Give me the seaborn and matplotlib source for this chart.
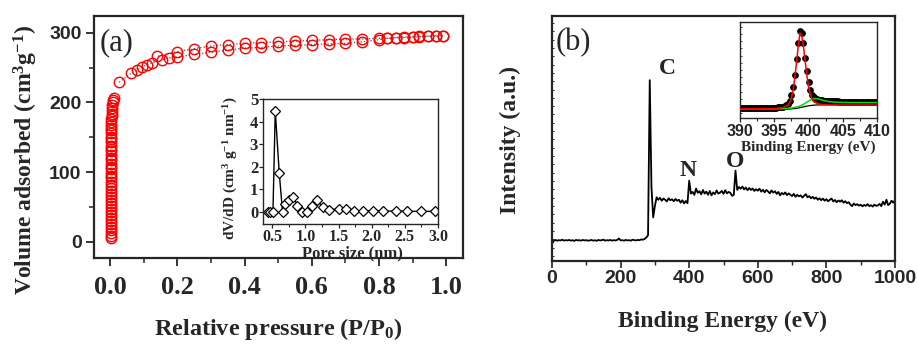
import numpy as np
import matplotlib
matplotlib.use("Agg")
import matplotlib.pyplot as plt
import seaborn as sns
from matplotlib.ticker import MultipleLocator

# ---- (a) N2 isotherm ----
low_p = [0.002, 0.002, 0.002, 0.002, 0.002, 0.002, 0.002, 0.002, 0.002, 0.002,
         0.002, 0.002, 0.002, 0.002, 0.002, 0.002, 0.002, 0.002, 0.002, 0.002,
         0.002, 0.002, 0.002, 0.002, 0.003, 0.003, 0.003, 0.003, 0.003, 0.003,
         0.003, 0.003, 0.003, 0.003, 0.003, 0.003, 0.004, 0.004, 0.004, 0.004,
         0.004, 0.005, 0.005, 0.006, 0.006, 0.007, 0.008, 0.010, 0.012]
low_v = [5, 9, 13, 17, 21, 26, 30, 34, 39, 43, 47, 52, 56, 60, 65, 69, 73, 78, 82, 86,
         91, 95, 99, 104, 108, 112, 117, 121, 125, 130, 134, 138, 143, 147, 151, 156,
         160, 164, 168, 172, 176, 180, 184, 188, 192, 196, 200, 204, 207]
ads_p = [0.027, 0.063, 0.08, 0.095, 0.11, 0.125, 0.155, 0.175, 0.2, 0.25, 0.3, 0.35,
         0.4, 0.45, 0.5, 0.55, 0.6, 0.65, 0.7, 0.75, 0.8, 0.825, 0.85, 0.875, 0.9,
         0.92, 0.945, 0.97, 0.99]
ads_v = [229, 242, 247, 251, 254, 257, 261, 264, 265, 269, 272, 275, 278, 279, 281,
         282, 283, 284, 285, 287, 290, 292, 293, 293, 294, 294, 295, 295, 296]
des_p = [0.99, 0.97, 0.945, 0.92, 0.9, 0.875, 0.85, 0.825, 0.8, 0.75, 0.7, 0.65, 0.6,
         0.55, 0.5, 0.45, 0.4, 0.35, 0.3, 0.25, 0.2, 0.14]
des_v = [296, 296, 295, 295, 294, 294, 293, 292, 292, 291, 291, 290, 289, 288, 287,
         286, 285, 283, 281, 277, 273, 266]
p_ticks = [0.0, 0.2, 0.4, 0.6, 0.8, 1.0]
p_labels = ["0.0", "0.2", "0.4", "0.6", "0.8", "1.0"]
v_ticks = [0, 100, 200, 300]

# pore size distribution (inset a)
pore_d = [0.43, 0.47, 0.51, 0.545, 0.605, 0.655, 0.685, 0.745, 0.82, 0.88, 0.95, 1.02,
          1.10, 1.18, 1.26, 1.36, 1.50, 1.61, 1.73, 1.87, 2.02, 2.17, 2.37, 2.53, 2.74, 2.96]
pore_dv = [0.0, 0.0, 0.0, 4.48, 1.73, 0.0, 0.35, 0.53, 0.65, 0.27, 0.0, 0.0, 0.27, 0.53,
           0.2, 0.09, 0.15, 0.12, 0.06, 0.06, 0.06, 0.04, 0.04, 0.03, 0.03, 0.03]
d_ticks = [0.5, 1.0, 1.5, 2.0, 2.5, 3.0]
d_labels = ["0.5", "1.0", "1.5", "2.0", "2.5", "3.0"]

# ---- (b) XPS survey, 5 eV steps ----
survey_e = np.arange(0, 1001, 5)
survey_i = [
    7.0, 8.2, 8.6, 8.3, 8.5, 8.4, 8.7, 8.3, 8.5, 8.4,
    8.6, 8.3, 8.5, 8.2, 8.6, 8.4, 8.5, 8.3, 8.6, 8.4,
    8.5, 8.3, 8.4, 8.6, 8.3, 8.5, 8.2, 8.6, 8.4, 8.5,
    8.7, 8.3, 8.5, 8.4, 8.6, 8.3, 8.5, 8.4, 8.6, 9.2,
    8.4, 8.5, 8.3, 8.6, 8.4, 8.5, 8.3, 8.7, 8.5, 8.4,
    8.6, 8.5, 8.8, 8.7, 9.0, 9.6, 10.5, 73.8, 30.0, 17.8,
    22.5, 26.0, 25.0, 25.8, 24.6, 25.5, 25.0, 24.3, 25.6, 24.8,
    25.2, 24.4, 25.3, 24.6, 25.0, 23.8, 24.8, 23.5, 24.5, 23.6,
    32.8, 27.5, 28.2, 27.0, 29.6, 27.8, 28.5, 27.2, 29.0, 27.5,
    28.3, 27.0, 28.6, 26.8, 28.0, 27.3, 28.8, 27.5, 27.9, 28.6,
    27.4, 28.9, 27.6, 28.2, 27.8, 26.6, 27.0, 36.9, 29.0, 30.2,
    29.5, 30.4, 29.2, 30.0, 28.9, 29.8, 29.0, 29.6, 28.6, 29.3,
    28.7, 29.5, 28.3, 29.1, 28.0, 29.0, 28.4, 27.6, 28.8, 27.9,
    28.5, 27.4, 28.2, 26.8, 27.8, 27.2, 28.0, 26.9, 27.6, 27.0,
    26.5, 27.4, 26.2, 27.0, 26.4, 26.8, 25.9, 26.6, 27.3, 26.0,
    26.5, 25.6, 26.2, 25.4, 25.9, 25.0, 25.6, 24.8, 25.5, 24.6,
    25.2, 24.4, 25.0, 25.5, 24.3, 24.9, 24.0, 24.7, 24.2, 24.8,
    23.8, 24.4, 23.6, 24.0, 23.0, 22.4, 23.5, 22.8, 23.2, 22.6,
    23.0, 22.3, 22.9, 22.5, 23.2, 22.4, 22.8, 22.2, 23.0, 22.5,
    22.7, 23.3, 22.4, 24.2, 23.0, 25.0, 22.8, 23.4, 24.6, 23.8,
    24.8]
e_ticks = [0, 200, 400, 600, 800, 1000]

# N 1s high resolution (inset b), 0.25 eV steps
n1s_e = np.arange(390, 410.01, 0.25)
n1s_i = [
    10.5, 10.6, 10.5, 10.4, 10.6, 10.5, 10.5, 10.6,
    10.5, 10.6, 10.5, 10.7, 10.6, 10.6, 10.7, 10.7,
    10.6, 10.6, 10.7, 10.7, 10.8, 10.9, 11.0, 11.2,
    11.5, 11.8, 12.2, 13.2, 15.0, 18.0, 23.5, 32.0,
    45.0, 61.0, 78.0, 91.0, 89.0, 78.0, 63.0, 48.5,
    37.0, 29.0, 24.0, 21.5, 20.2, 19.5, 19.0, 18.7,
    18.4, 18.2, 18.0, 17.8, 17.6, 17.5, 17.4, 17.3,
    17.2, 17.2, 17.1, 17.1, 17.0, 17.0, 17.0, 16.9,
    16.9, 16.9, 16.8, 16.8, 16.8, 16.8, 16.8, 16.7,
    16.7, 16.7, 16.7, 16.7, 16.7, 16.7, 16.7, 16.7,
    16.7]
fit1_e = [390, 394, 395, 396, 396.5, 397, 397.25, 397.5, 397.75, 398, 398.25, 398.5,
          398.75, 399, 399.25, 399.5, 399.75, 400, 400.25, 400.5, 401, 401.5, 402, 403,
          405, 410]
fit1_i = [9.6, 9.7, 9.9, 10.5, 11.4, 13.5, 16.2, 21.0, 29.0, 42.0, 58.0, 75.0, 88.5,
          86.0, 75.0, 60.0, 45.0, 33.0, 25.0, 20.0, 16.0, 14.6, 14.0, 13.6, 13.5, 13.5]
fit2_e = [390, 395, 396.5, 397.5, 398.5, 399.0, 399.5, 400.0, 400.5, 401.0, 401.5,
          402.0, 402.5, 403.0, 404.0, 406.0, 410]
fit2_i = [9.5, 9.5, 9.7, 10.3, 11.8, 13.3, 15.3, 17.6, 19.6, 20.3, 19.8, 18.7, 17.7,
          17.0, 16.4, 16.1, 16.0]
bg_e = [390, 396, 397, 398, 398.5, 399, 399.5, 400, 400.5, 401, 402, 403, 410]
bg_i = [9.0, 9.0, 9.2, 9.8, 10.4, 11.2, 12.0, 12.7, 13.2, 13.5, 13.7, 13.8, 13.8]
n_ticks = [390, 395, 400, 405, 410]

sns.set_style("ticks")
plt.rcParams["font.family"] = ["Liberation Serif", "DejaVu Serif"]
plt.rcParams["mathtext.fontset"] = "custom"
plt.rcParams["mathtext.rm"] = "Liberation Serif:bold"
plt.rcParams["mathtext.bf"] = "Liberation Serif:bold"
plt.rcParams["mathtext.it"] = "Liberation Serif:bold"
plt.rcParams["mathtext.default"] = "bf"

SERIF = "Liberation Serif"
SANS = "Liberation Sans"
W, H = 917, 348


def box(l, t, r, b):
    return [l / W, 1 - b / H, (r - l) / W, (b - t) / H]


fig = plt.figure(figsize=(9.17, 3.48), dpi=100)

# ---------- panel (a) ----------
ax = fig.add_axes(box(94, 16, 463, 258))
sns.lineplot(x=des_p, y=des_v, ax=ax, sort=False, estimator=None, color="#555555",
             linestyle=":", lw=0.9)
sns.lineplot(x=ads_p, y=ads_v, ax=ax, sort=False, estimator=None, color="#555555",
             linestyle=":", lw=0.9)
for px, py in [(low_p, low_v), (ads_p, ads_v), (des_p, des_v)]:
    sns.lineplot(x=px, y=py, ax=ax, sort=False, estimator=None, linestyle="none",
                 marker="o", ms=7.5, mfc="none", mec="red", mew=1)
ax.set_xlim(-0.048, 1.05)
ax.set_ylim(-23, 324)
ax.set_xticks(p_ticks)
ax.set_xticklabels(p_labels, fontfamily=SERIF, fontweight="bold", fontsize=19)
ax.set_yticks(v_ticks)
ax.set_yticklabels([str(v) for v in v_ticks], fontfamily=SANS, fontweight="bold", fontsize=14)
ax.xaxis.set_minor_locator(MultipleLocator(0.1))
ax.yaxis.set_minor_locator(MultipleLocator(50))
ax.tick_params(which="major", direction="out", length=6, width=1.3)
ax.tick_params(which="minor", direction="out", length=3.5, width=1.1)
ax.tick_params(axis="x", pad=7)
ax.tick_params(axis="y", pad=3)
for s in ax.spines.values():
    s.set_linewidth(1.6)
ax.set_xlabel("")
ax.set_ylabel("")
ax.text(0.015, 0.89, "(a)", transform=ax.transAxes, fontsize=22, va="center", ha="left")

# inset (a)
ia = fig.add_axes(box(263, 99, 438, 224))
sns.lineplot(x=pore_d, y=pore_dv, ax=ia, sort=False, estimator=None, color="black", lw=1,
             marker="D", ms=5, mfc="white", mec="black", mew=0.9)
ia.set_xlim(0.36, 3.0)
ia.set_ylim(-0.53, 5.0)
ia.set_xticks(d_ticks)
ia.set_xticklabels(d_labels, fontfamily=SERIF, fontweight="bold", fontsize=11.5)
ia.set_yticks([0, 1, 2, 3, 4, 5])
ia.set_yticklabels(["0", "1", "2", "3", "4", "5"], fontfamily=SERIF, fontweight="bold",
                   fontsize=12)
ia.xaxis.set_minor_locator(MultipleLocator(0.25))
ia.tick_params(which="major", direction="out", length=3, width=0.9, pad=0.5)
ia.tick_params(which="minor", direction="out", length=1.8, width=0.8)
for s in ia.spines.values():
    s.set_linewidth(1.0)
ia.set_xlabel("")
ia.set_ylabel("")
fig.text(352 / W, 1 - 253 / H, "Pore size (nm)", fontsize=12, fontweight="bold",
         ha="center", va="center")
fig.text(231 / W, 1 - 168 / H, "dV/dD (cm$^{3}$ g$^{-1}$ nm$^{-1}$)", fontsize=11,
         fontweight="bold", rotation=90, ha="center", va="center")

fig.text(26 / W, 1 - 160 / H, "Volume adsorbed (cm$^{3}$g$^{-1}$)", fontsize=17,
         fontweight="bold", rotation=90, ha="center", va="center")
fig.text(278 / W, 1 - 329 / H, "Relative pressure (P/P$_{0}$)", fontsize=17.5,
         fontweight="bold", ha="center", va="center")

# ---------- panel (b) ----------
bx = fig.add_axes(box(552, 16, 895, 261))
sns.lineplot(x=survey_e, y=survey_i, ax=bx, sort=False, estimator=None, color="black", lw=1.3)
bx.set_xlim(0, 1000)
bx.set_ylim(0, 100)
bx.set_xticks(e_ticks)
bx.set_xticklabels([str(e) for e in e_ticks], fontfamily=SANS, fontweight="bold", fontsize=14)
bx.xaxis.set_minor_locator(MultipleLocator(100))
bx.set_yticks(np.arange(2, 100, 3.4))
bx.set_yticklabels([])
bx.tick_params(axis="x", which="major", direction="out", length=5, width=1.2, pad=1.5)
bx.tick_params(axis="x", which="minor", direction="out", length=3, width=1.0)
bx.tick_params(axis="y", direction="in", length=1.5, width=0.7)
for s in bx.spines.values():
    s.set_linewidth(1.6)
bx.set_xlabel("")
bx.set_ylabel("")
bx.text(0.01, 0.89, "(b)", transform=bx.transAxes, fontsize=22, va="center", ha="left")
bx.text(335, 78.7, "C", fontsize=17, fontweight="bold", ha="center", va="center")
bx.text(398, 36.9, "N", fontsize=17, fontweight="bold", ha="center", va="center")
bx.text(533, 40.5, "O", fontsize=17, fontweight="bold", ha="center", va="center")

fig.text(510 / W, 1 - 140 / H, "Intensity (a.u.)", fontsize=17, fontweight="bold",
         rotation=90, ha="center", va="center")
fig.text(723 / W, 1 - 321 / H, "Binding Energy (eV)", fontsize=17, fontweight="bold",
         ha="center", va="center")

# inset (b)
ib = fig.add_axes(box(740, 22, 877, 118))
sns.scatterplot(x=n1s_e, y=n1s_i, ax=ib, color="black", s=24, linewidth=0, marker="o",
                zorder=2)
sns.lineplot(x=bg_e, y=bg_i, ax=ib, sort=False, estimator=None, color="black", lw=0.9,
             zorder=3)
sns.lineplot(x=fit2_e, y=fit2_i, ax=ib, sort=False, estimator=None, color="#00dd00", lw=1.1,
             zorder=4)
sns.lineplot(x=fit1_e, y=fit1_i, ax=ib, sort=False, estimator=None, color="red", lw=1.1,
             zorder=5)
ib.set_xlim(390, 410)
ib.set_ylim(0, 100)
ib.set_xticks(n_ticks)
ib.set_xticklabels([str(n) for n in n_ticks], fontfamily=SANS, fontweight="bold", fontsize=11.5)
ib.xaxis.set_minor_locator(MultipleLocator(2.5))
ib.set_yticks(np.arange(5, 100, 7.5))
ib.set_yticklabels([])
ib.tick_params(axis="x", which="major", direction="out", length=3, width=0.9, pad=1)
ib.tick_params(axis="x", which="minor", direction="out", length=1.8, width=0.8)
ib.tick_params(axis="y", direction="in", length=1.5, width=0.6)
for s in ib.spines.values():
    s.set_linewidth(1.0)
ib.set_xlabel("")
ib.set_ylabel("")
fig.text(808 / W, 1 - 147 / H, "Binding Energy (eV)", fontsize=11, fontweight="bold",
         ha="center", va="center")

fig.savefig("out.png", dpi=100)
